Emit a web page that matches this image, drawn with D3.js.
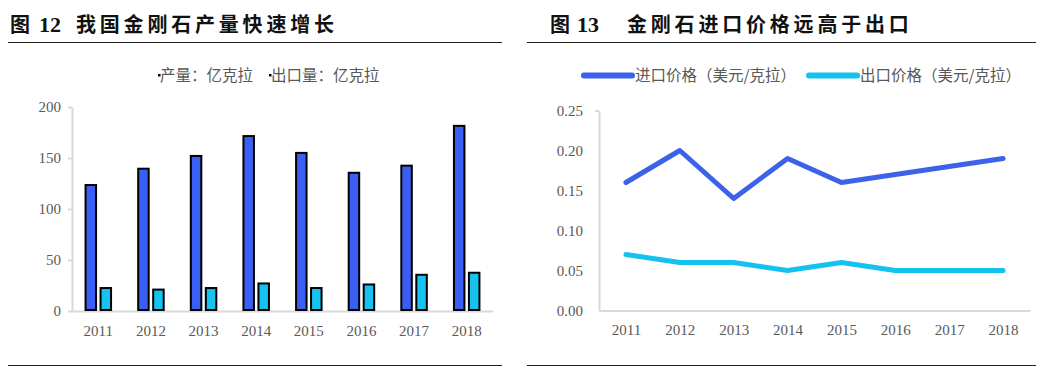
<!DOCTYPE html>
<html><head><meta charset="utf-8">
<script src="https://cdn.jsdelivr.net/npm/d3@7/dist/d3.min.js"></script>
<style>body{margin:0;background:#fff}svg{display:block}</style>
</head><body>
<svg id="c" width="1042" height="369"></svg>
<script>
const years = ["2011","2012","2013","2014","2015","2016","2017","2018"];
const production = [123.5, 139.5, 152, 171.5, 155, 135.5, 142.5, 181.5];
const exportVol = [22.5, 21, 22.5, 27, 22.5, 26, 35.5, 37.5];
const leftTicks = [0, 50, 100, 150, 200];
const importPrice = [0.16, 0.20, 0.14, 0.19, 0.16, 0.17, 0.18, 0.19];
const exportPrice = [0.07, 0.06, 0.06, 0.05, 0.06, 0.05, 0.05, 0.05];
const rightTicks = [0, 0.05, 0.10, 0.15, 0.20, 0.25];
const leftLegend = ["产量：亿克拉", "出口量：亿克拉"];
const rightLegend = ["进口价格（美元/克拉）", "出口价格（美元/克拉）"];

const svg = d3.select("#c");
const serif = "'Liberation Serif','Times New Roman',serif";
const sans = "'Noto Sans CJK SC','Noto Sans',sans-serif";
const BLUE = "#3a5ff2", CYAN = "#16c3f0", LBLUE = "#3b62e8", LCYAN = "#14c2ef";
const axisCol = "#d9d9d9", txtCol = "#595959";

// Titles and rules
function title(xFig, xNum, xText, num, text) {
  svg.append("text").attr("x", xFig).attr("y", 32)
    .attr("font-family", "'Noto Sans CJK SC',serif").attr("font-weight", "bold")
    .attr("font-size", 20).attr("fill", "#111").text("图");
  svg.append("text").attr("x", xNum).attr("y", 32)
    .attr("font-family", serif).attr("font-weight", "bold")
    .attr("font-size", 22).attr("fill", "#111").text(num);
  svg.append("text").attr("x", xText).attr("y", 32)
    .attr("font-family", "'Noto Sans CJK SC',serif").attr("font-weight", "bold")
    .attr("font-size", 20).attr("letter-spacing", 3.8).attr("fill", "#111").text(text);
}
title(10, 39, 76, "12", "我国金刚石产量快速增长");
title(550, 577, 627, "13", "金刚石进口价格远高于出口");
[[8,502],[527,1036]].forEach(([a,b]) => {
  svg.append("line").attr("x1",a).attr("x2",b).attr("y1",42.5).attr("y2",42.5).attr("stroke","#222").attr("stroke-width",1);
  svg.append("line").attr("x1",a).attr("x2",b).attr("y1",365.5).attr("y2",365.5).attr("stroke","#222").attr("stroke-width",1);
});

function styleAxis(g) {
  g.selectAll(".domain").attr("stroke", axisCol).attr("stroke-width", 2);
  g.selectAll(".tick line").attr("stroke", axisCol).attr("stroke-width", 2);
  g.selectAll("text").attr("fill", txtCol).attr("font-family", serif).attr("font-size", 15);
}

// LEFT chart
{
  const x0 = d3.scaleBand().domain(years).range([72, 493]);
  const y = d3.scaleLinear().domain([0, 200]).range([311, 107]);
  const gy = svg.append("g").attr("transform", "translate(72,0)")
    .call(d3.axisLeft(y).tickValues(leftTicks).tickSize(4).tickSizeOuter(0).tickPadding(7));
  styleAxis(gy);
  const gx = svg.append("g").attr("transform", "translate(0,311)")
    .call(d3.axisBottom(x0).tickSize(0).tickSizeOuter(0).tickPadding(14));
  styleAxis(gx);
  const bw = 10.5, gap = 4.5;
  svg.append("g").selectAll("rect").data(production).join("rect")
    .attr("x", (d,i) => x0(years[i]) + x0.bandwidth()/2 - gap/2 - bw)
    .attr("y", d => y(d)).attr("width", bw).attr("height", d => y(0) - y(d) - 1)
    .attr("fill", BLUE).attr("stroke", "#000").attr("stroke-width", 2);
  svg.append("g").selectAll("rect").data(exportVol).join("rect")
    .attr("x", (d,i) => x0(years[i]) + x0.bandwidth()/2 + gap/2)
    .attr("y", d => y(d)).attr("width", bw).attr("height", d => y(0) - y(d) - 1)
    .attr("fill", CYAN).attr("stroke", "#000").attr("stroke-width", 2);
  // legend
  const lg = svg.append("g").attr("font-family", sans).attr("font-size", 15.5).attr("fill", txtCol);
  const lx = [160, 271];
  leftLegend.forEach((t, i) => {
    lg.append("rect").attr("x", lx[i]-2).attr("y", 74).attr("width", 2.5).attr("height", 2.5).attr("fill", "#000");
    lg.append("text").attr("x", lx[i]).attr("y", 81).text(t);
  });
}

// RIGHT chart
{
  const x = d3.scalePoint().domain(years).range([599, 1030]).padding(0.5);
  const y = d3.scaleLinear().domain([0, 0.25]).range([310.5, 110.5]);
  const gy = svg.append("g").attr("transform", "translate(599,0)")
    .call(d3.axisLeft(y).tickValues(rightTicks).tickFormat(d3.format(".2f")).tickSize(4).tickSizeOuter(0).tickPadding(12));
  styleAxis(gy);
  gy.selectAll(".tick line").attr("x2", d => d === 0.25 ? -4 : 0);
  const gx = svg.append("g").attr("transform", "translate(0,310.5)")
    .call(d3.axisBottom(x).tickSize(0).tickSizeOuter(0).tickPadding(14));
  styleAxis(gx);
  const line = d3.line().x((d,i) => x(years[i])).y(d => y(d));
  svg.append("path").datum(importPrice).attr("d", line).attr("fill", "none")
    .attr("stroke", LBLUE).attr("stroke-width", 5).attr("stroke-linecap", "round").attr("stroke-linejoin", "round");
  svg.append("path").datum(exportPrice).attr("d", line).attr("fill", "none")
    .attr("stroke", LCYAN).attr("stroke-width", 5).attr("stroke-linecap", "round").attr("stroke-linejoin", "round");
  const lg = svg.append("g").attr("font-family", sans).attr("font-size", 15.5).attr("fill", txtCol);
  const items = [{x: 584, c: LBLUE, t: rightLegend[0]}, {x: 809, c: LCYAN, t: rightLegend[1]}];
  items.forEach(it => {
    lg.append("line").attr("x1", it.x).attr("x2", it.x + 48).attr("y1", 75.5).attr("y2", 75.5)
      .attr("stroke", it.c).attr("stroke-width", 6).attr("stroke-linecap", "round");
    lg.append("text").attr("x", it.x + 51).attr("y", 81).text(it.t);
  });
}
</script>
</body></html>
